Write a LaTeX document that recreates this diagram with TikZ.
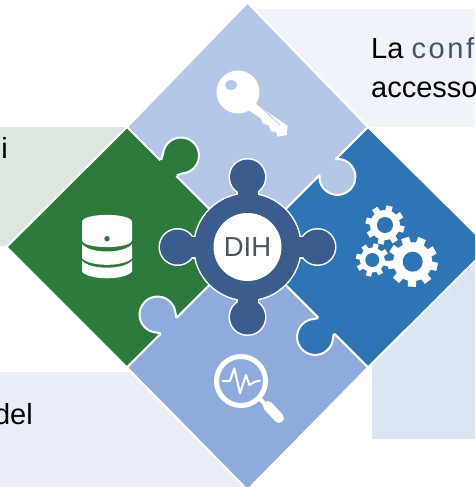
\documentclass[tikz,border=0pt]{standalone}
\usepackage{fontspec}
\setmainfont{Liberation Sans}
\definecolor{topc}{HTML}{B4C7E7}
\definecolor{greenc}{HTML}{2D7B3C}
\definecolor{bluec}{HTML}{2E75B6}
\definecolor{lowc}{HTML}{8FAADC}
\definecolor{ringc}{HTML}{3A5D8D}
\definecolor{slatec}{HTML}{44546A}
\definecolor{bgtop}{HTML}{F0F4FA}
\definecolor{bggreen}{HTML}{DCE8DF}
\definecolor{bglow}{HTML}{EAEEF8}
\definecolor{bgright}{HTML}{DAE5F1}
\tikzset{
  piece/.style={draw=white,line width=2pt,line join=miter},
  bodytext/.style={anchor=base west,inner sep=0pt,font=\fontsize{29}{29}\selectfont},
  icon/.style={fill=white,draw=none},
}
\newcommand{\puzzletab}[5]{% colour, Mx, My, rotation, offset
  \begin{scope}[shift={(#2,#3)},rotate=#4]
    \fill[#1] (-3,-11) -- (0,-11) -- (#5-11.6,-13.8) arc[start angle=-130,end angle=130,radius=18] -- (0,11) -- (-3,11) -- cycle;
    \draw[white,line width=2pt,line join=round] (0,-11) -- (#5-11.6,-13.8) arc[start angle=-130,end angle=130,radius=18] -- (0,11);
  \end{scope}}
\newcommand{\gearicon}[6]{% x, y, body radius, outer radius, hole radius, teeth
  \fill[white] (#1,#2) circle[radius=#3];
  \foreach \k in {1,...,#6}{
    \draw[white,line width=#3*0.42pt] (#1,#2) ++({(\k+0.3)*360/#6}:#3-1) -- ++({(\k+0.3)*360/#6}:#4-#3+1);
  }
  \fill[bluec] (#1,#2) circle[radius=#5];}
\begin{document}
\begin{tikzpicture}[x=1pt,y=-1pt]
\useasboundingbox (0,0) rectangle (475,487);
\clip (0,0) rectangle (475,487);
% panels
\fill[bgtop] (247,9) rectangle (475,127);
\fill[bggreen] (0,127) rectangle (127,246);
\fill[bglow] (0,372) rectangle (250,487);
\fill[bgright] (372,250) rectangle (475,439);
% texts
\node[bodytext] (t1) at (371,59) {La {\addfontfeature{LetterSpace=9}\textcolor{slatec}{conf}}};
\node[bodytext] (t2) at (371,97) {accesso};
\node[bodytext,anchor=base east] (t3) at (8,158) {i};
\node[bodytext,anchor=base east] (t4) at (33,424) {del};
% pieces
\path[piece,fill=topc] (247.5,2.5) -- (368,127) -- (247.5,247) -- (127,127) -- cycle;
\path[piece,fill=greenc] (127,127) -- (247.5,247) -- (127,367.5) -- (6.5,247) -- cycle;
\path[piece,fill=bluec] (368,127) -- (489,247) -- (368,367.5) -- (247.5,247) -- cycle;
\path[piece,fill=lowc] (247.5,247) -- (368,367.5) -- (247.5,490) -- (127,367.5) -- cycle;
% puzzle tabs
\puzzletab{greenc}{169}{167.5}{45}{17}
\puzzletab{topc}{327.5}{167}{-45}{14}
\puzzletab{bluec}{326}{326}{-135}{15.5}
\puzzletab{lowc}{168.5}{325.5}{135}{15.5}
% hub
\foreach \a in {0,90,180,270}{
  \begin{scope}[shift={(247.5,247)},rotate=\a]
    \draw[white,line width=3pt] (50,-10) rectangle (70,10);
    \draw[white,line width=3pt] (70,0) circle[radius=17.5];
  \end{scope}}
\draw[white,line width=3pt] (247.5,247) circle[radius=53];
\foreach \a in {0,90,180,270}{
  \begin{scope}[shift={(247.5,247)},rotate=\a]
    \fill[ringc] (45,-10) rectangle (70,10);
    \fill[ringc] (70,0) circle[radius=17.5];
  \end{scope}}
\fill[ringc] (247.5,247) circle[radius=53];
\node[circle,fill=white,minimum size=68pt,inner sep=0pt,text=slatec,font=\fontsize{27.5}{27.5}\selectfont] (dih) at (247.5,247) {DIH};
% key icon
\fill[icon] (238,92) circle[radius=21.5];
\fill[topc] (231,85) ellipse[x radius=6,y radius=5];
\fill[icon] (255,103.3) -- (287.7,126) -- (286.7,135) -- (277.3,136.7) -- (276,131.7) -- (271.7,131.7) -- (268.3,125) -- (263.3,124) -- (260.7,118.3) -- (248.3,110) -- cycle;
\draw[topc,line width=0.8pt] (256.7,103.3) -- (280,125);
% database icon
\fill[icon] (82,222) .. controls (82,212.5) and (132,212.5) .. (132,222) -- (132,240) .. controls (132,249.5) and (82,249.5) .. (82,240) -- cycle;
\fill[icon] (82,244) .. controls (90,254) and (124,254) .. (132,244) -- (132,258.3) .. controls (124,267) and (90,267) .. (82,258.3) -- cycle;
\fill[icon] (82,260.7) .. controls (90,270) and (124,270) .. (132,260.7) -- (132,271.7) .. controls (124,280.5) and (90,280.5) .. (82,271.7) -- cycle;
\fill[greenc] (107,238.7) circle[radius=2.7];
% gears icon
\gearicon{385}{225}{15}{19.5}{8}{8}
\gearicon{412.7}{261.7}{19.5}{25}{10}{9}
\gearicon{372.3}{260}{12.5}{16.5}{7}{8}
% magnifier icon
\draw[white,line width=5pt] (241,381) circle[radius=24.5];
\draw[white,line width=4pt] (259,398) -- (267,406);
\draw[white,line width=10pt,line cap=round] (268,406) -- (279,418);
\draw[white,line width=2pt,line join=round,line cap=round] (222.7,381) -- (230,381) -- (234.3,368.3) -- (240,393.3) -- (246,375) -- (249.3,385) -- (255,381.7) -- (260,380.7);
\end{tikzpicture}
\end{document}
